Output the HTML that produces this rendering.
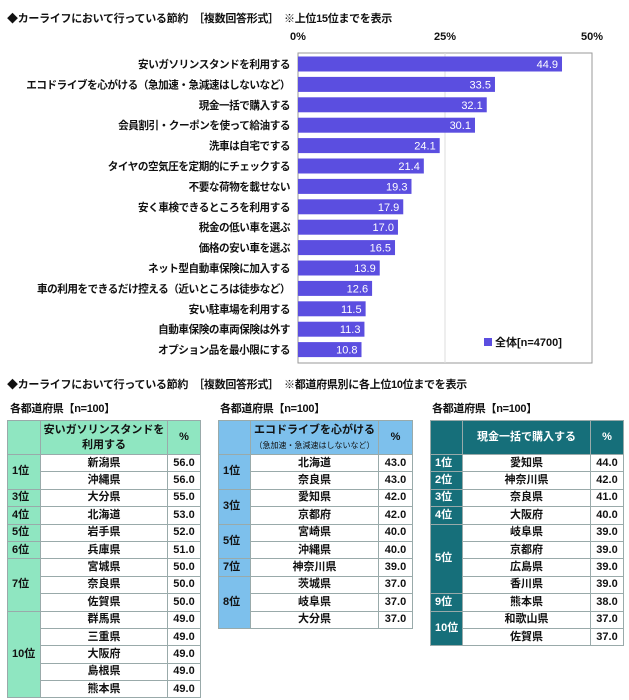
<!DOCTYPE html>
<html><head><meta charset="utf-8">
<style>
body{margin:0;width:629px;height:700px;background:#fff;overflow:hidden;font-family:"Liberation Sans","Noto Sans CJK JP",sans-serif;position:relative}
.t{position:absolute;font-size:11px;font-weight:bold;color:#111;white-space:nowrap;letter-spacing:-0.3px}
table{position:absolute;border-collapse:collapse;font-size:11px;font-weight:bold;color:#111;table-layout:fixed}
td{border:1px solid #9aa;text-align:center;padding:0;height:16.4px;line-height:15px}
th{border:1px solid #9aa;font-weight:bold;height:33px;line-height:15px;padding:0}
.rk{text-align:left;padding-left:4px}
.small{font-size:8px;font-weight:normal}
</style></head><body>
<div class="t" style="left:7px;top:10px">◆カーライフにおいて行っている節約　［複数回答形式］　※上位15位までを表示</div>
<svg id="chart" width="629" height="370" style="position:absolute;left:0;top:0"></svg>
<div class="t" style="left:7px;top:376px">◆カーライフにおいて行っている節約　［複数回答形式］　※都道府県別に各上位10位までを表示</div>
<div class="t" style="left:10px;top:400px">各都道府県【n=100】</div>
<div class="t" style="left:220px;top:400px">各都道府県【n=100】</div>
<div class="t" style="left:432px;top:400px">各都道府県【n=100】</div>

<table style="left:7px;top:420px;width:193px">
<colgroup><col style="width:33px"><col style="width:127px"><col style="width:33px"></colgroup>
<tr style="background:#8fe6c1"><th></th><th>安いガソリンスタンドを<br>利用する</th><th>%</th></tr>
<tr><td rowspan="2" class="rk" style="background:#8fe6c1">1位</td><td>新潟県</td><td>56.0</td></tr>
<tr><td>沖縄県</td><td>56.0</td></tr>
<tr><td class="rk" style="background:#8fe6c1">3位</td><td>大分県</td><td>55.0</td></tr>
<tr><td class="rk" style="background:#8fe6c1">4位</td><td>北海道</td><td>53.0</td></tr>
<tr><td class="rk" style="background:#8fe6c1">5位</td><td>岩手県</td><td>52.0</td></tr>
<tr><td class="rk" style="background:#8fe6c1">6位</td><td>兵庫県</td><td>51.0</td></tr>
<tr><td rowspan="3" class="rk" style="background:#8fe6c1">7位</td><td>宮城県</td><td>50.0</td></tr>
<tr><td>奈良県</td><td>50.0</td></tr>
<tr><td>佐賀県</td><td>50.0</td></tr>
<tr><td rowspan="5" class="rk" style="background:#8fe6c1">10位</td><td>群馬県</td><td>49.0</td></tr>
<tr><td>三重県</td><td>49.0</td></tr>
<tr><td>大阪府</td><td>49.0</td></tr>
<tr><td>島根県</td><td>49.0</td></tr>
<tr><td>熊本県</td><td>49.0</td></tr>
</table>

<table style="left:218px;top:420px;width:194px">
<colgroup><col style="width:32px"><col style="width:128px"><col style="width:34px"></colgroup>
<tr style="background:#7dc0ec"><th></th><th>エコドライブを心がける<br><span class="small">（急加速・急減速はしないなど）</span></th><th>%</th></tr>
<tr><td rowspan="2" class="rk" style="background:#7dc0ec">1位</td><td>北海道</td><td>43.0</td></tr>
<tr><td>奈良県</td><td>43.0</td></tr>
<tr><td rowspan="2" class="rk" style="background:#7dc0ec">3位</td><td>愛知県</td><td>42.0</td></tr>
<tr><td>京都府</td><td>42.0</td></tr>
<tr><td rowspan="2" class="rk" style="background:#7dc0ec">5位</td><td>宮崎県</td><td>40.0</td></tr>
<tr><td>沖縄県</td><td>40.0</td></tr>
<tr><td class="rk" style="background:#7dc0ec">7位</td><td>神奈川県</td><td>39.0</td></tr>
<tr><td rowspan="3" class="rk" style="background:#7dc0ec">8位</td><td>茨城県</td><td>37.0</td></tr>
<tr><td>岐阜県</td><td>37.0</td></tr>
<tr><td>大分県</td><td>37.0</td></tr>
</table>

<table style="left:430px;top:420px;width:193px">
<colgroup><col style="width:32px"><col style="width:128px"><col style="width:33px"></colgroup>
<tr style="background:#166f7a;color:#fff"><th></th><th>現金一括で購入する</th><th>%</th></tr>
<tr><td class="rk" style="background:#166f7a;color:#fff">1位</td><td>愛知県</td><td>44.0</td></tr>
<tr><td class="rk" style="background:#166f7a;color:#fff">2位</td><td>神奈川県</td><td>42.0</td></tr>
<tr><td class="rk" style="background:#166f7a;color:#fff">3位</td><td>奈良県</td><td>41.0</td></tr>
<tr><td class="rk" style="background:#166f7a;color:#fff">4位</td><td>大阪府</td><td>40.0</td></tr>
<tr><td rowspan="4" class="rk" style="background:#166f7a;color:#fff">5位</td><td>岐阜県</td><td>39.0</td></tr>
<tr><td>京都府</td><td>39.0</td></tr>
<tr><td>広島県</td><td>39.0</td></tr>
<tr><td>香川県</td><td>39.0</td></tr>
<tr><td class="rk" style="background:#166f7a;color:#fff">9位</td><td>熊本県</td><td>38.0</td></tr>
<tr><td rowspan="2" class="rk" style="background:#166f7a;color:#fff">10位</td><td>和歌山県</td><td>37.0</td></tr>
<tr><td>佐賀県</td><td>37.0</td></tr>
</table>

<script>
const categories=["安いガソリンスタンドを利用する","エコドライブを心がける（急加速・急減速はしないなど）","現金一括で購入する","会員割引・クーポンを使って給油する","洗車は自宅でする","タイヤの空気圧を定期的にチェックする","不要な荷物を載せない","安く車検できるところを利用する","税金の低い車を選ぶ","価格の安い車を選ぶ","ネット型自動車保険に加入する","車の利用をできるだけ控える（近いところは徒歩など）","安い駐車場を利用する","自動車保険の車両保険は外す","オプション品を最小限にする"];
const values=[44.9,33.5,32.1,30.1,24.1,21.4,19.3,17.9,17.0,16.5,13.9,12.6,11.5,11.3,10.8];
const ticks=[0,25,50];
const NS="http://www.w3.org/2000/svg";
const svg=document.getElementById('chart');
const x0=298,x1=592,top0=53,step=20.4,bh=15;
const X=v=>x0+(v/50)*(x1-x0);
const Y=i=>top0+11+i*step;
function mk(t,a){const e=document.createElementNS(NS,t);for(const k in a)e.setAttribute(k,a[k]);svg.appendChild(e);return e;}
const box=mk('rect',{x:x0,y:top0,width:x1-x0,height:310,fill:'none',stroke:'#999','stroke-width':1});


ticks.forEach(t=>{
  if(t>0&&t<50){const g=mk('line',{x1:X(t),x2:X(t),y1:top0,y2:top0+310,stroke:'#ddd'});
  
  }
  const tx=mk('text',{x:X(t),y:40,'text-anchor':'middle','font-size':11,'font-weight':'bold',fill:'#111'});
  tx.textContent=t+'%';
  
  
});
categories.forEach((c,i)=>{
  const y=Y(i);
  const r=mk('rect',{x:x0,y:y-bh/2,width:X(values[i])-x0,height:bh,fill:'#5b4ee0'});
  
  
  const v=mk('text',{x:X(values[i])-4,y:y+4,'text-anchor':'end','font-size':11,fill:'#fff'});
  v.textContent=values[i].toFixed(1);
  
  
  const l=mk('text',{x:x0-8,y:y+4,'text-anchor':'end','font-size':10.6,'font-weight':'bold','letter-spacing':'-0.45',fill:'#111'});
  l.textContent=c;
  
  
});
const lg=mk('rect',{x:484,y:338,width:8,height:8,fill:'#5b4ee0'});


const lt=mk('text',{x:495,y:346,'font-size':11,'font-weight':'bold',fill:'#111'});
lt.textContent='全体[n=4700]';


</script>
</body></html>
